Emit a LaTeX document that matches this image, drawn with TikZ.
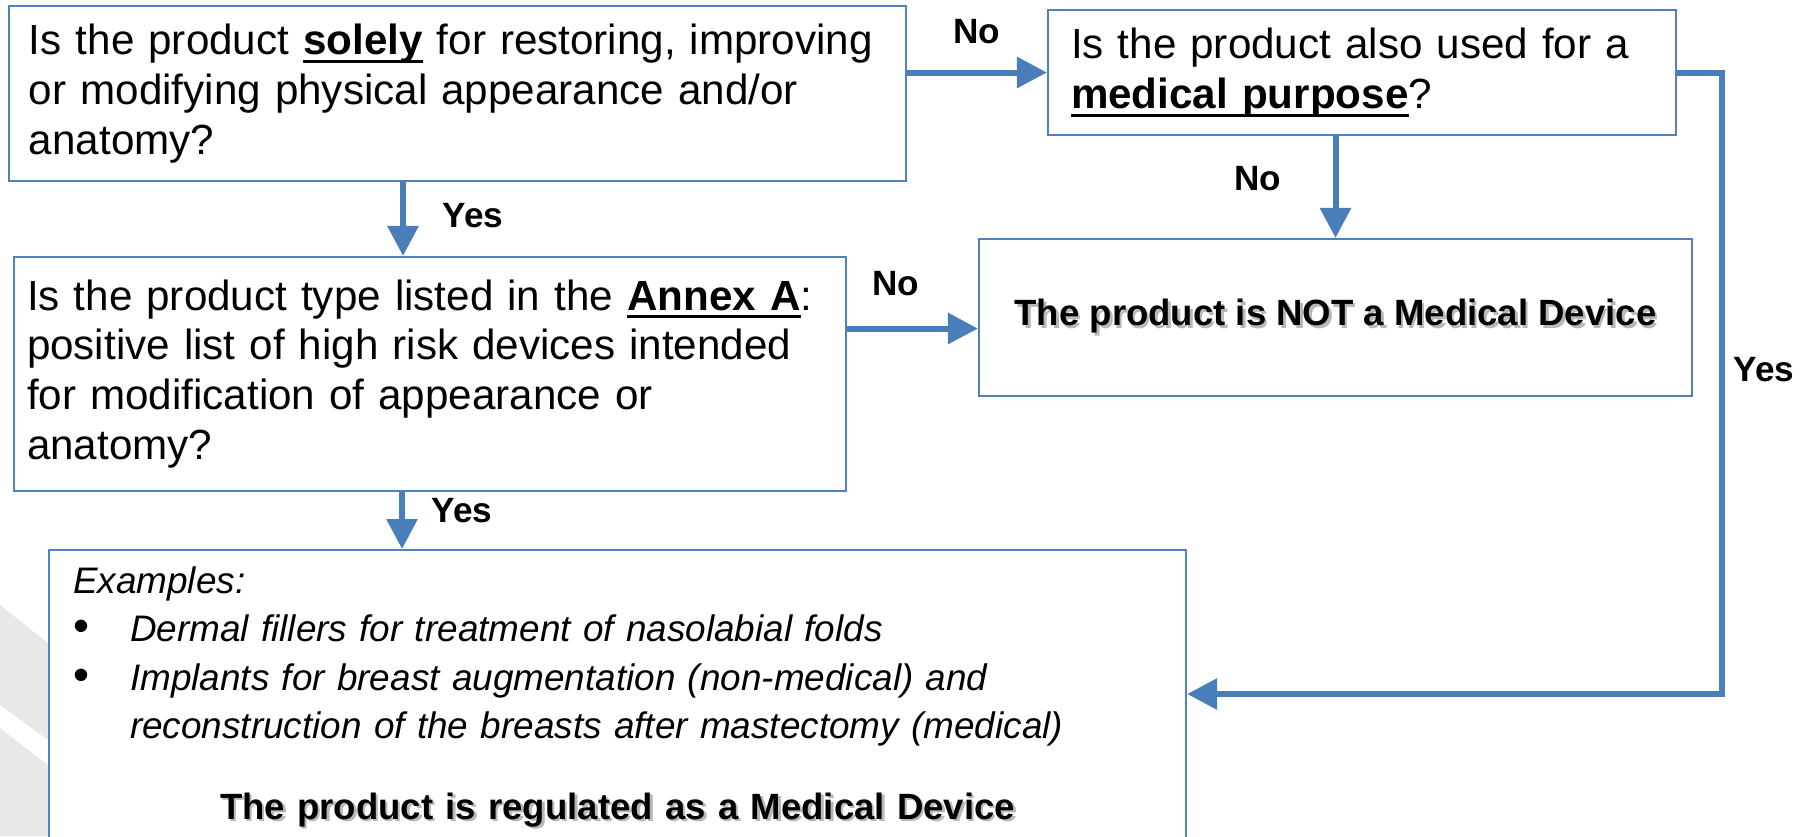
\documentclass[tikz,border=0pt]{standalone}
\usepackage{fontspec}
\setmainfont{Liberation Sans}
\usetikzlibrary{arrows.meta}

\definecolor{boxblue}{RGB}{79,129,189}
\definecolor{flowblue}{RGB}{74,126,187}
\definecolor{markgray}{RGB}{232,232,232}

\newsavebox{\ulbox}
\newcommand{\ulined}[1]{\leavevmode\sbox{\ulbox}{#1}\rlap{\rule[-2.4pt]{\wd\ulbox}{0.9pt}}\usebox{\ulbox}}
\newcommand{\shadowed}[1]{\makebox[0pt][l]{\hspace{0.7pt}\raisebox{-0.7pt}{\textcolor{black!28}{#1}}}#1}
\newcommand{\bigbullet}{\makebox[0.57cm][l]{\fontsize{13}{13}\selectfont\textbullet}}

\begin{document}
\begin{tikzpicture}
    \useasboundingbox (0, 0) rectangle (18.10, -8.36);

    % faint mark on the left
    \fill[markgray] (0, -6.05) -- (0.48, -6.43) -- (0.48, -7.40) -- (0, -7.05) -- cycle;
    \fill[markgray] (0, -7.28) -- (0.48, -7.65) -- (0.48, -8.36) -- (0, -8.36) -- cycle;

    \begin{scope}[every node/.style={draw=boxblue,line width=0.6pt,fill=white,align=left,font=\fontsize{12}{14.2}\selectfont}]
        \node[minimum width=8.97cm, minimum height=1.75cm, text width=8.57cm, inner xsep=0.2cm] (Q_1) at (4.575, -0.935)
            {Is the product \ulined{\textbf{solely}} for restoring, improving\\or modifying physical appearance and/or\\anatomy?};
        \node[minimum width=6.28cm, minimum height=1.25cm, text width=5.82cm, inner xsep=0.23cm] (Q_2) at (13.62, -0.725)
            {Is the product also used for a\\\ulined{\textbf{medical purpose}}?};
        \node[minimum width=8.32cm, minimum height=2.34cm, text width=8.06cm, inner xsep=0.13cm] (Q_3) at (4.30, -3.74)
            {Is the product type listed in the \ulined{\textbf{Annex A}}:\\positive list of high risk devices intended\\for modification of appearance or\\anatomy?};
        \node[minimum width=7.13cm, minimum height=1.57cm, align=center, font=\fontsize{10.4}{12.5}\selectfont\bfseries] (NotMD) at (13.355, -3.175)
            {\shadowed{The product is NOT a Medical Device}};
        \node[anchor=north west, text width=10.89cm, inner xsep=0.24cm, inner ysep=0.17cm, font=\fontsize{10.5}{13.7}\selectfont] (IsMD) at (0.48, -5.49)
            {\textit{Examples:}\\
             \bigbullet\textit{Dermal fillers for treatment of nasolabial folds}\\
             \bigbullet\textit{Implants for breast augmentation (non-medical) and}\\
             \hspace*{0.57cm}\textit{reconstruction of the breasts after mastectomy (medical)}\\[0.33cm]
             \makebox[10.89cm][c]{\bfseries\fontsize{10.4}{13.7}\selectfont\shadowed{The product is regulated as a Medical Device}}\rule[-0.5cm]{0pt}{0pt}};
    \end{scope}

    \begin{scope}[every node/.style={font=\fontsize{10}{12}\selectfont\bfseries}]
        \node (L_1) at (9.77, -0.32) {No};
        \node (L_2) at (4.73, -2.16) {Yes};
        \node (L_3) at (12.58, -1.79) {No};
        \node (L_4) at (8.96, -2.84) {No};
        \node (L_5) at (4.62, -5.11) {Yes};
        \node (L_6) at (17.64, -3.70) {Yes};
    \end{scope}

    \coordinate (Q_3_top) at ([xshift=-0.27cm]Q_3.north);
    \coordinate (Q_3_bot) at ([xshift=-0.28cm]Q_3.south);
    \coordinate (NotMD_in) at ([yshift=-0.11cm]NotMD.west);
    \coordinate (T) at (17.22, -6.94);

    \begin{scope}[every edge/.style={draw=flowblue, line width=1.7pt, -{Triangle[length=0.3cm, width=0.3cm]}}]
        \path (Q_1.east |- Q_2.west) edge (Q_2.west);
        \path (Q_3_top |- Q_1.south) edge (Q_3_top);
        \path (Q_2.south -| NotMD.north) edge (NotMD.north);
        \path (Q_3.east |- NotMD_in) edge (NotMD_in);
        \path (Q_3_bot) edge (Q_3_bot |- IsMD.north);
        \draw[draw=flowblue, line width=1.7pt, -{Triangle[length=0.3cm, width=0.3cm]}] (Q_2.east) -| (T) -- (IsMD.east |- T);
    \end{scope}
\end{tikzpicture}
\end{document}
